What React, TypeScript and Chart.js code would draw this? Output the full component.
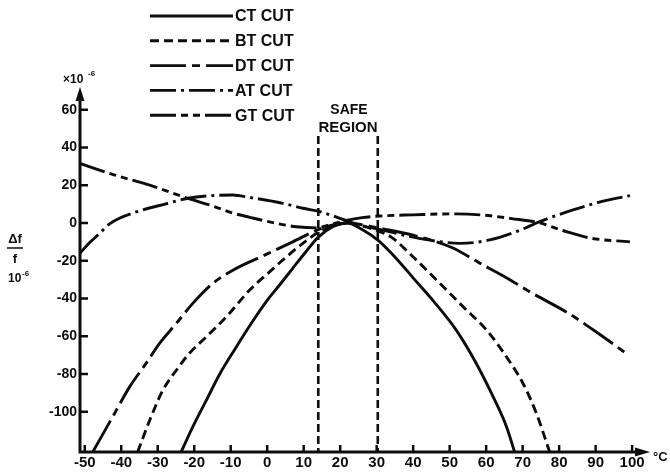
import React, { useEffect, useRef } from "react";
import { Chart, registerables } from "chart.js";

Chart.register(...registerables);

// ---- data (temperature °C, frequency deviation ×10⁻⁶) ----
const CT_T = [-23.6, -20.4, -16.7, -13, -8.9, -4.3, 0, 3.5, 7, 10.5, 14, 18, 22, 26, 30.4, 35, 40.4, 45.4, 51.9, 57.3, 61.9, 65.6, 67.8];
const CT_V = [-121.3, -108, -94, -80, -67, -53, -41, -32.6, -24, -15.5, -7.5, -2, 0, -3.5, -9.2, -18, -30, -41, -57, -74.4, -92, -108, -121.3];

const BT_T = [-35.5, -32.2, -28.6, -24.9, -21.3, -16.7, -11.2, -4.8, 0, 4.3, 9, 14, 18, 22, 26, 30, 34, 40, 46.4, 53.7, 60.1, 65.6, 70.1, 73.8, 77.4];
const BT_V = [-121.3, -104.5, -88.6, -78, -69, -60.3, -49.7, -35.5, -27, -19.6, -12, -5, -1.5, 0, -1.5, -4, -7.5, -18, -30.2, -44.4, -56.7, -71, -85, -101, -121.3];

const DT_T = [-47.8, -42.3, -37.7, -33.2, -29.5, -24.9, -20.4, -14.9, -9.4, 0, 7, 14, 18, 22, 26, 30, 40, 50.6, 58, 66.7, 71.9, 82.7, 90, 97.9];
const DT_V = [-121.3, -102.5, -86.8, -74.4, -63.8, -53.2, -42.6, -32, -25, -16.4, -10, -3.5, -1, 0, -1, -2.5, -6.5, -13, -21, -30.3, -36.4, -48, -57.5, -68.4];

const AT_T = [-51.3, -48.7, -45.9, -43.2, -40.5, -34.1, -28, -21.7, -15, -9.4, -4.8, 4.3, 9.8, 14.4, 22, 25, 31, 40, 47.3, 52.8, 61, 68.3, 74.7, 83.8, 91, 99.4];
const AT_V = [-16, -10.5, -5.5, -0.5, 2.5, 6.9, 10, 13.1, 14.5, 14.8, 13.5, 10.4, 7.8, 6, 1, -1, -3.5, -7.5, -9.9, -10.8, -9, -4.6, 0.7, 6.9, 11, 14.5];

const GT_T = [-51.3, -42, -32.2, -21.7, -15, -9.4, -4.8, 2, 8, 13.5, 18, 22, 26, 31, 40, 50, 59, 67, 74.7, 81, 88.5, 99.4];
const GT_V = [31.5, 25.5, 20, 13, 9, 5.2, 3, 0, -2, -2.6, -0.5, 1.5, 2.8, 3.7, 4.3, 4.8, 4.2, 2.3, 0, -4, -8, -10];

const SAFE_REGION_T = [14, 30.3];
const SAFE_REGION_TOP = 46;

const X_TICKS = [-50, -40, -30, -20, -10, 0, 10, 20, 30, 40, 50, 60, 70, 80, 90, 100];
const Y_TICKS = [-100, -80, -60, -40, -20, 0, 20, 40, 60];
const X_MIN = -51.3;
const X_MAX = 104.9;
const Y_MIN = -121.3;
const Y_MAX = 72;

const LEGEND_LABELS = ["CT CUT", "BT CUT", "DT CUT", "AT CUT", "GT CUT"];

// ---- styles ----
const INK = "#0d0d0d";
const FONT = '"Liberation Sans", Arial, Helvetica, sans-serif';
const LINE_W = 2.9;
const DASHES: number[][] = [
  [],
  [9, 5],
  [36, 6, 8, 6],
  [26, 5, 3, 5],
  [26, 5, 7, 5, 7, 5],
];

const toPts = (t: number[], v: number[]) => t.map((x, i) => ({ x, y: v[i] }));

const curveSets = [
  toPts(CT_T, CT_V),
  toPts(BT_T, BT_V),
  toPts(DT_T, DT_V),
  toPts(AT_T, AT_V),
  toPts(GT_T, GT_V),
];

const decorPlugin = {
  id: "decor",
  afterDatasetsDraw(chart: any) {
    const { ctx, chartArea: a, scales } = chart;
    const xs = scales.x;
    const ys = scales.y;
    ctx.save();
    ctx.strokeStyle = INK;
    ctx.fillStyle = INK;
    ctx.setLineDash([]);
    ctx.lineCap = "butt";

    // axes
    ctx.lineWidth = 3;
    ctx.beginPath();
    ctx.moveTo(a.left, a.bottom + 1.5);
    ctx.lineTo(a.left, a.top + 10);
    ctx.moveTo(a.left - 1.5, a.bottom);
    ctx.lineTo(a.right - 10, a.bottom);
    ctx.stroke();
    // arrow heads
    ctx.beginPath();
    ctx.moveTo(a.left, a.top);
    ctx.lineTo(a.left - 4.5, a.top + 14);
    ctx.lineTo(a.left + 4.5, a.top + 14);
    ctx.closePath();
    ctx.fill();
    ctx.beginPath();
    ctx.moveTo(a.right, a.bottom);
    ctx.lineTo(a.right - 15, a.bottom - 4.5);
    ctx.lineTo(a.right - 15, a.bottom + 4.5);
    ctx.closePath();
    ctx.fill();

    // inward ticks
    ctx.lineWidth = 2.5;
    ctx.beginPath();
    Y_TICKS.forEach((v) => {
      const py = ys.getPixelForValue(v);
      ctx.moveTo(a.left, py);
      ctx.lineTo(a.left + 8, py);
    });
    X_TICKS.forEach((v) => {
      const px = xs.getPixelForValue(v);
      ctx.moveTo(px, a.bottom);
      ctx.lineTo(px, a.bottom - 7);
    });
    ctx.stroke();

    // legend
    const legendX0 = 150;
    const legendX1 = 233;
    const legendY0 = 16;
    const legendStep = 24.8;
    chart.data.datasets.forEach((ds: any, i: number) => {
      if (!ds.label) return;
      const yy = legendY0 + i * legendStep;
      ctx.lineWidth = LINE_W;
      ctx.setLineDash(ds.borderDash || []);
      ctx.beginPath();
      ctx.moveTo(legendX0, yy);
      ctx.lineTo(legendX1, yy);
      ctx.stroke();
      ctx.setLineDash([]);
      ctx.font = `bold 16px ${FONT}`;
      ctx.textAlign = "left";
      ctx.textBaseline = "middle";
      ctx.fillText(ds.label, legendX1 + 2, yy + 1);
    });

    // safe region label
    const cx = (xs.getPixelForValue(SAFE_REGION_T[0]) + xs.getPixelForValue(SAFE_REGION_T[1])) / 2;
    ctx.font = `bold 14px ${FONT}`;
    ctx.textAlign = "center";
    ctx.textBaseline = "middle";
    ctx.fillText("SAFE", cx + 1, 110);
    ctx.font = `bold 15px ${FONT}`;
    ctx.fillText("REGION", cx, 128);

    // y-axis unit at top
    ctx.font = `bold 12px ${FONT}`;
    ctx.textAlign = "left";
    ctx.fillText("×10", 63, 80);
    ctx.font = `bold 8px ${FONT}`;
    ctx.fillText("-6", 88, 74);

    // y-axis title: Δf / f  10⁻⁶
    ctx.font = `bold 13px ${FONT}`;
    ctx.textAlign = "center";
    ctx.fillText("Δf", 15, 239);
    ctx.lineWidth = 1.5;
    ctx.beginPath();
    ctx.moveTo(7, 248);
    ctx.lineTo(23, 248);
    ctx.stroke();
    ctx.fillText("f", 15, 259);
    ctx.textAlign = "left";
    ctx.font = `bold 12px ${FONT}`;
    ctx.fillText("10", 8, 279);
    ctx.font = `bold 8px ${FONT}`;
    ctx.fillText("-6", 22, 274);

    // x-axis unit
    ctx.font = `bold 13px ${FONT}`;
    ctx.textAlign = "left";
    ctx.fillText("°C", 653, 457);

    ctx.restore();
  },
};

export default function App() {
  const ref = useRef<HTMLCanvasElement>(null);

  useEffect(() => {
    if (!ref.current) return;
    const datasets: any[] = curveSets.map((pts, i) => ({
      label: LEGEND_LABELS[i],
      data: pts,
      showLine: true,
      borderColor: INK,
      backgroundColor: INK,
      borderWidth: LINE_W,
      borderDash: DASHES[i],
      pointRadius: 0,
      cubicInterpolationMode: "monotone",
      fill: false,
    }));
    SAFE_REGION_T.forEach((t) => {
      datasets.push({
        label: "",
        data: [
          { x: t, y: SAFE_REGION_TOP },
          { x: t, y: Y_MIN },
        ],
        showLine: true,
        borderColor: INK,
        borderWidth: 2.6,
        borderDash: [8, 4],
        pointRadius: 0,
        tension: 0,
        fill: false,
      });
    });

    const tickFont = { family: FONT, weight: "bold" as const };

    const chart = new Chart(ref.current, {
      type: "scatter",
      data: { datasets },
      options: {
        animation: false,
        responsive: false,
        devicePixelRatio: 1,
        events: [],
        layout: { padding: { left: 0, right: 20, top: 87, bottom: 0 } },
        plugins: {
          legend: { display: false },
          tooltip: { enabled: false },
          title: { display: false },
        },
        scales: {
          x: {
            type: "linear",
            min: X_MIN,
            max: X_MAX,
            grid: { display: false, drawTicks: false, tickLength: 0 },
            border: { display: false },
            afterBuildTicks: (s: any) => {
              s.ticks = X_TICKS.map((v) => ({ value: v }));
            },
            afterFit: (s: any) => {
              s.height = 22;
            },
            ticks: {
              autoSkip: false,
              maxRotation: 0,
              padding: 2,
              color: INK,
              font: { ...tickFont, size: 15 },
              callback: (v: any) => String(v),
            },
          },
          y: {
            type: "linear",
            min: Y_MIN,
            max: Y_MAX,
            grid: { display: false, drawTicks: false, tickLength: 0 },
            border: { display: false },
            afterBuildTicks: (s: any) => {
              s.ticks = Y_TICKS.map((v) => ({ value: v }));
            },
            afterFit: (s: any) => {
              s.width = 80;
            },
            ticks: {
              autoSkip: false,
              padding: 3,
              color: INK,
              font: { ...tickFont, size: 14 },
              callback: (v: any) => String(v),
            },
          },
        },
      },
      plugins: [decorPlugin],
    } as any);

    return () => chart.destroy();
  }, []);

  return (
    <div style={{ position: "fixed", left: 0, top: 0, width: 670, height: 474, background: "#ffffff" }}>
      <canvas ref={ref} width={670} height={474} style={{ display: "block", width: 670, height: 474 }} />
    </div>
  );
}
